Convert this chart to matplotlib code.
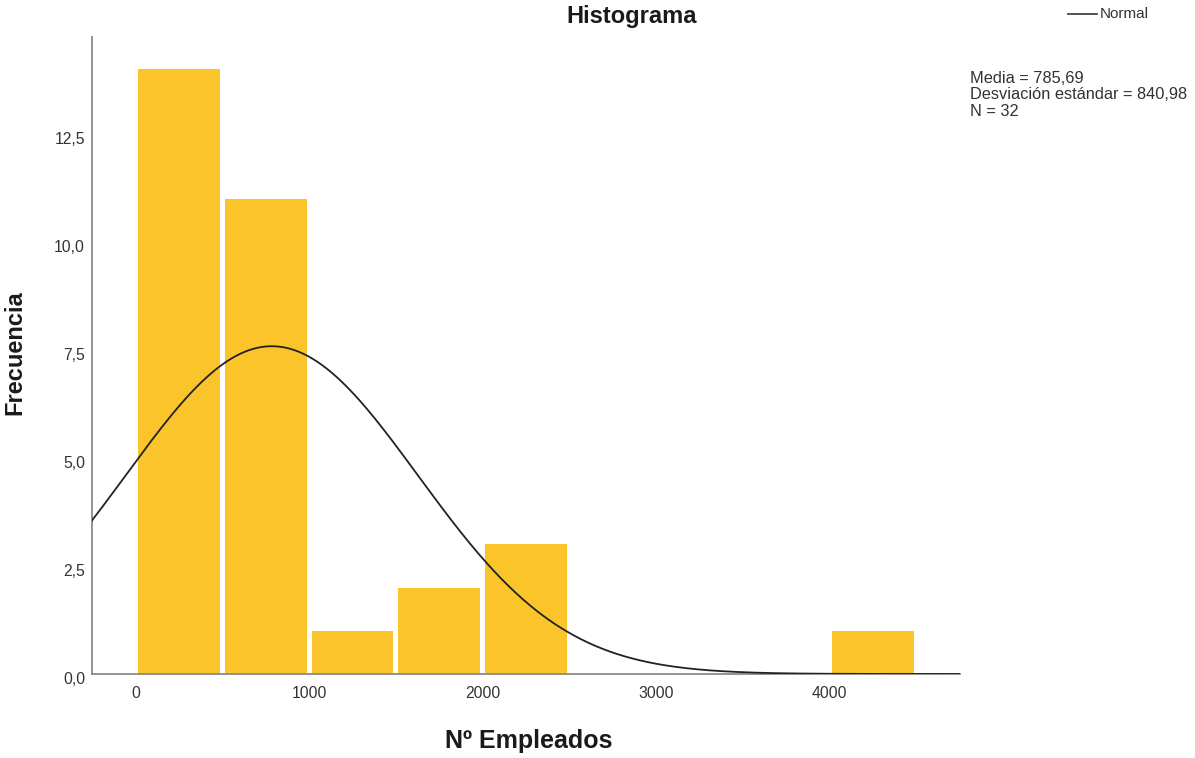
import numpy as np
import matplotlib
matplotlib.use("Agg")
import matplotlib.pyplot as plt
from matplotlib.transforms import ScaledTranslation

plt.rcParams['font.family'] = ['Liberation Sans', 'DejaVu Sans']

# Histogram of number of employees (bin width 500)
bin_edges = [0, 500, 1000, 1500, 2000, 2500, 3000, 3500, 4000, 4500]
counts = [14, 11, 1, 2, 3, 0, 0, 0, 1]
media = 785.69
desv = 840.98
n = 32

x_ticks = [0, 1000, 2000, 3000, 4000]
y_ticks = [0.0, 2.5, 5.0, 7.5, 10.0, 12.5]

bar_color = '#FBC42A'
text_color = '#1a1a1a'
tick_color = '#333333'

fig = plt.figure(figsize=(11.95, 7.58), dpi=100)
ax = fig.add_axes([92 / 1195, 84 / 758, 868 / 1195, 637 / 758])

xmin, xmax = -250, 4750
ax.set_xlim(xmin, xmax)
ax.set_ylim(0, 14.75)

# Bars separated by a thin white gap on each side (gap given in pixels)
edges = np.array(bin_edges, dtype=float)
widths = np.diff(edges)
px_per_unit = ax.get_position().width * fig.get_figwidth() * fig.dpi / (xmax - xmin)
gap = 2.5 / px_per_unit
ax.bar(edges[:-1] + gap, counts, width=widths - 2 * gap, align='edge',
       color=bar_color, linewidth=0, zorder=2)

# Fitted normal curve scaled to counts
xs = np.linspace(xmin, xmax, 600)
bw = widths[0]
curve = n * bw / (desv * np.sqrt(2 * np.pi)) * np.exp(-0.5 * ((xs - media) / desv) ** 2)
ax.plot(xs, curve, color='#222222', linewidth=1.3, zorder=3)

ax.set_xticks(x_ticks)
ax.set_xticklabels([str(t) for t in x_ticks])
ax.set_yticks(y_ticks)
ax.set_yticklabels([f"{t:.1f}".replace('.', ',') for t in y_ticks])
ax.tick_params(length=0, labelsize=11.3, colors=tick_color)
ax.tick_params(axis='x', pad=9)
ax.tick_params(axis='y', pad=5)
shift = ScaledTranslation(0, -4 / 100, fig.dpi_scale_trans)
for lbl in ax.get_yticklabels():
    lbl.set_transform(lbl.get_transform() + shift)

for side in ('top', 'right'):
    ax.spines[side].set_visible(False)
for side in ('left', 'bottom'):
    ax.spines[side].set_color('#8a8a8a')
    ax.spines[side].set_linewidth(1.3)

fig.text(632 / 1195, 1 - 17 / 758, 'Histograma', ha='center', va='center',
         fontsize=17, fontweight='bold', color=text_color)
fig.text(15 / 1195, 1 - 353 / 758, 'Frecuencia', ha='center', va='center',
         rotation=90, fontsize=17, fontweight='bold', color=text_color)
fig.text(529 / 1195, 1 - 741 / 758, 'Nº Empleados', ha='center', va='center',
         fontsize=18, fontweight='bold', color=text_color)

# Legend entry for the normal curve
fig.add_artist(plt.Line2D([1068 / 1195, 1097 / 1195], [1 - 14 / 758, 1 - 14 / 758],
                          color='#444444', linewidth=1.3))
fig.text(1100 / 1195, 1 - 14 / 758, 'Normal', ha='left', va='center',
         fontsize=11, color=tick_color)

stats = (f"Media = {media:.2f}".replace('.', ',') + "\n"
         + f"Desviación estándar = {desv:.2f}".replace('.', ',') + "\n"
         + f"N = {n}")
fig.text(970 / 1195, 1 - 71 / 758, stats, ha='left', va='top',
         fontsize=11.8, color=tick_color, linespacing=1.12)

fig.savefig('out.png', dpi=100)
